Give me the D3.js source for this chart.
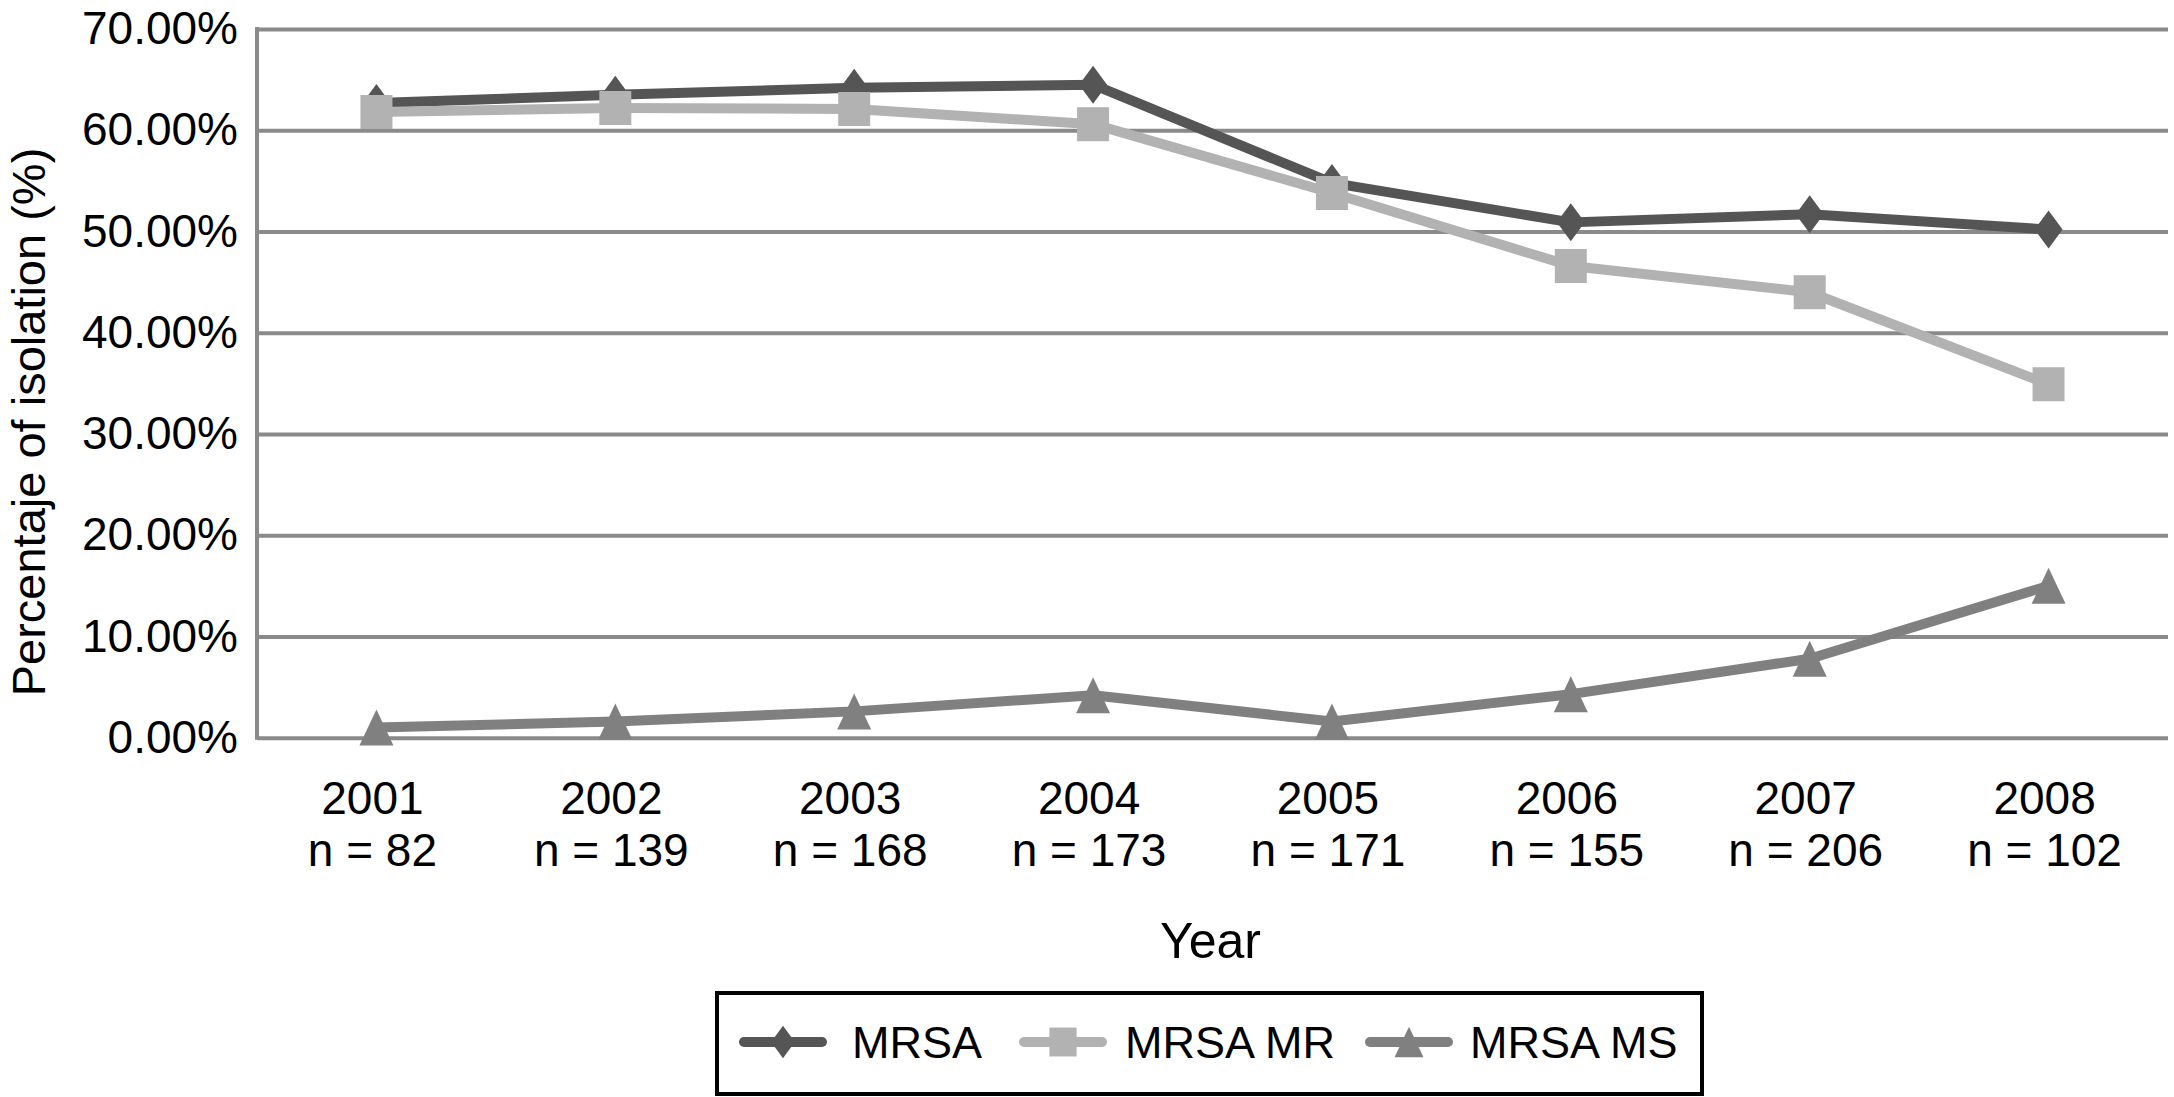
<!DOCTYPE html>
<html>
<head>
<meta charset="utf-8">
<script src="https://cdn.jsdelivr.net/npm/d3@7"></script>
<style>
  body { margin: 0; background: #fff; }
  svg text { font-family: "Liberation Sans", Arial, Helvetica, sans-serif; fill: #000; }
</style>
</head>
<body>
<svg id="chart" width="2174" height="1097"></svg>
<script>
const years = ['2001', '2002', '2003', '2004', '2005', '2006', '2007', '2008'];
const nValues = [82, 139, 168, 173, 171, 155, 206, 102];
const mrsa = [62.7, 63.5, 64.2, 64.5, 54.8, 50.9, 51.7, 50.2];
const mrsaMR = [61.8, 62.2, 62.1, 60.6, 53.8, 46.6, 44.0, 34.9];
const mrsaMS = [1.0, 1.6, 2.6, 4.2, 1.6, 4.3, 7.8, 15.0];
const yTicks = [0, 10, 20, 30, 40, 50, 60, 70];

const seriesList = [
  { name: 'MRSA', values: mrsa, color: '#555555', shape: 'diamond' },
  { name: 'MRSA MR', values: mrsaMR, color: '#b2b2b2', shape: 'square' },
  { name: 'MRSA MS', values: mrsaMS, color: '#808080', shape: 'triangle' },
];

const svg = d3.select('#chart');
const margin = { top: 29, right: 6, bottom: 359, left: 257 };
const width = 2174, height = 1097;
const gridColor = '#8a8a8a';

const x = d3.scaleBand()
  .domain(years)
  .range([margin.left, width - margin.right]);

const y = d3.scaleLinear()
  .domain([0, 70])
  .range([height - margin.bottom - 0.3, margin.top]);

const cx = (d) => x(d) + x.bandwidth() / 2;

// marker paths
function markerPath(shape, s) {
  const p = d3.path();
  if (shape === 'diamond') {
    const w = 14 * s, h = 19 * s;
    p.moveTo(0, -h); p.lineTo(w, 0); p.lineTo(0, h); p.lineTo(-w, 0); p.closePath();
  } else if (shape === 'square') {
    const w = 16 * s, h = 17 * s;
    p.rect(-w, -h, 2 * w, 2 * h);
  } else {
    const w = 17 * s, h = 18 * s;
    p.moveTo(0, -h); p.lineTo(w, h); p.lineTo(-w, h); p.closePath();
  }
  return p.toString();
}

// gridlines
svg.append('g')
  .attr('transform', `translate(${margin.left},0)`)
  .call(d3.axisLeft(y).tickValues(yTicks).tickSize(-(width - margin.right - margin.left)).tickFormat(''))
  .call((g) => g.select('.domain').remove())
  .call((g) => g.selectAll('.tick line').attr('stroke', gridColor).attr('stroke-width', 4));

// left axis line
svg.append('line')
  .attr('x1', margin.left).attr('x2', margin.left)
  .attr('y1', y(70) - 2).attr('y2', y(0) + 2)
  .attr('stroke', gridColor).attr('stroke-width', 4);

// y tick labels
svg.append('g')
  .attr('transform', `translate(${margin.left - 19},0)`)
  .call(d3.axisLeft(y).tickValues(yTicks).tickSize(0).tickPadding(0).tickFormat((d) => d3.format('.2f')(d) + '%'))
  .call((g) => g.select('.domain').remove())
  .call((g) => g.selectAll('text')
    .attr('font-size', 46)
    .attr('font-family', '"Liberation Sans", Arial, sans-serif')
    .attr('fill', '#000'));

// x labels
const xAxis = svg.append('g')
  .attr('transform', `translate(-4,0)`)
  .call(d3.axisBottom(x).tickSize(0).tickFormat(''));
xAxis.select('.domain').remove();
xAxis.selectAll('.tick').each(function (d, i) {
  const t = d3.select(this).append('text')
    .attr('text-anchor', 'middle')
    .attr('font-size', 46)
    .attr('fill', '#000');
  t.append('tspan').attr('x', 0).attr('y', 814).text(d);
  t.append('tspan').attr('x', 0).attr('y', 866).text('n = ' + nValues[i]);
});

// axis titles
svg.append('text')
  .attr('transform', `translate(45,${422}) rotate(-90)`)
  .attr('text-anchor', 'middle')
  .attr('font-size', 47)
  .text('Percentaje of isolation (%)');

svg.append('text')
  .attr('x', (margin.left + width - margin.right) / 2 - 2)
  .attr('y', 958)
  .attr('text-anchor', 'middle')
  .attr('font-size', 50)
  .text('Year');

// series
const line = d3.line()
  .x((d, i) => cx(years[i]))
  .y((d) => y(d));

seriesList.forEach((s) => {
  svg.append('path')
    .datum(s.values)
    .attr('fill', 'none')
    .attr('stroke', s.color)
    .attr('stroke-width', 10)
    .attr('stroke-linejoin', 'round')
    .attr('d', line);
  svg.append('g')
    .selectAll('path')
    .data(s.values)
    .join('path')
    .attr('transform', (d, i) => `translate(${cx(years[i])},${y(d)})`)
    .attr('d', markerPath(s.shape, 1))
    .attr('fill', s.color);
});

// legend
const legend = svg.append('g');
legend.append('rect')
  .attr('x', 717).attr('y', 993)
  .attr('width', 985).attr('height', 101)
  .attr('fill', 'none')
  .attr('stroke', '#000')
  .attr('stroke-width', 4);

const legendItems = [
  { lx: 740, tx: 852 },
  { lx: 1020, tx: 1125 },
  { lx: 1366, tx: 1470 },
];
seriesList.forEach((s, i) => {
  const it = legendItems[i];
  const g = legend.append('g');
  g.append('line')
    .attr('x1', it.lx + 4).attr('x2', it.lx + 82)
    .attr('y1', 1042).attr('y2', 1042)
    .attr('stroke', s.color)
    .attr('stroke-width', 10)
    .attr('stroke-linecap', 'round');
  g.append('path')
    .attr('transform', `translate(${it.lx + 43},1042)`)
    .attr('d', markerPath(s.shape, 0.85))
    .attr('fill', s.color);
  g.append('text')
    .attr('x', it.tx).attr('y', 1058)
    .attr('font-size', 45)
    .text(s.name);
});
</script>
</body>
</html>
